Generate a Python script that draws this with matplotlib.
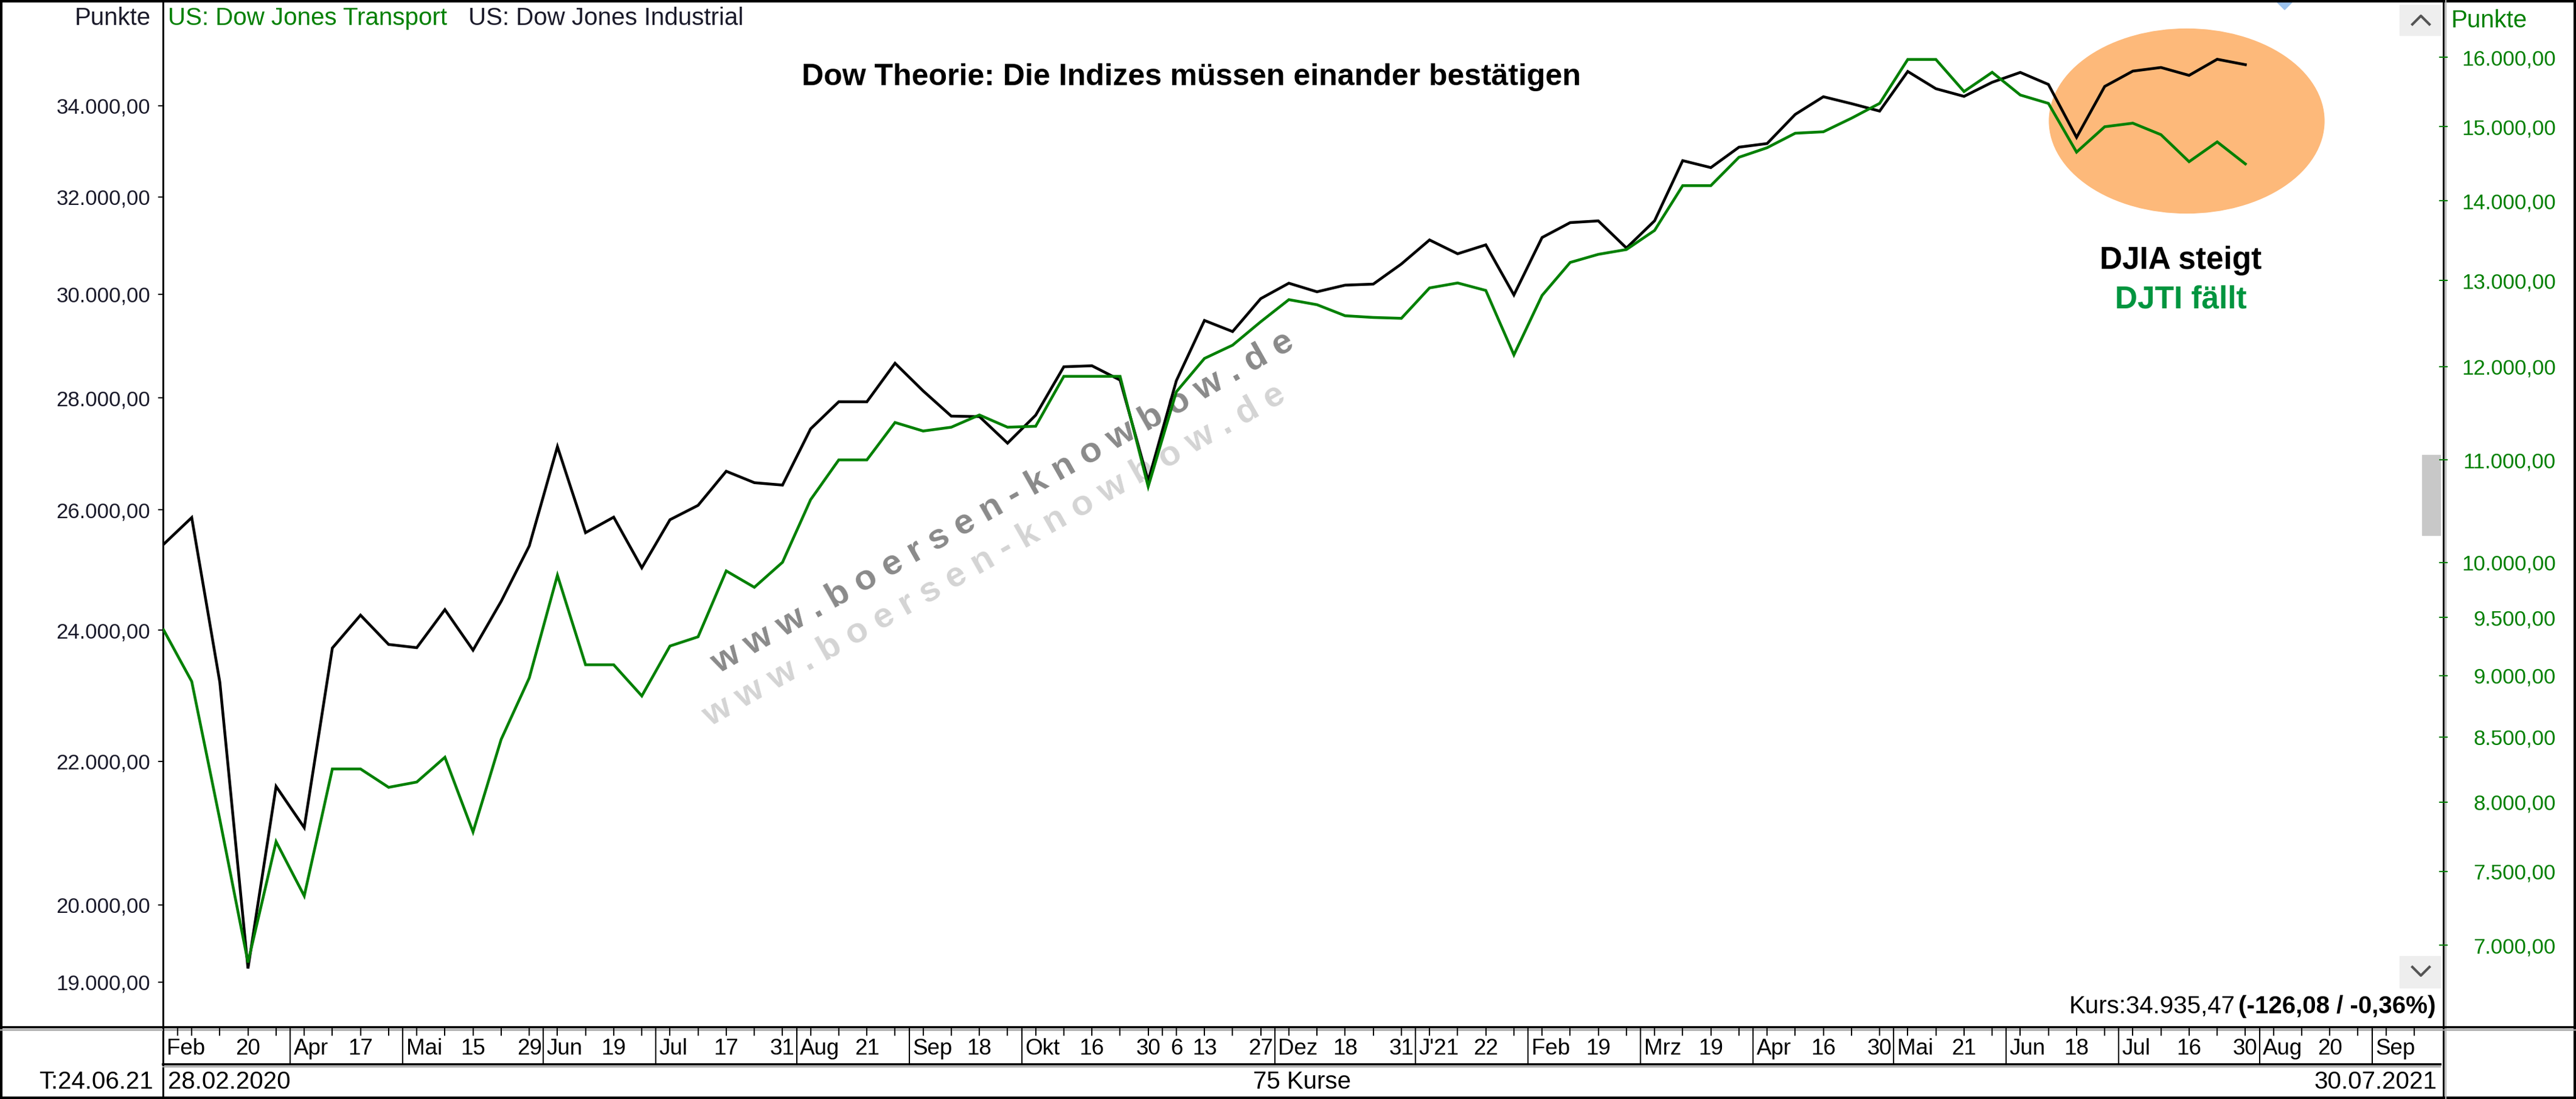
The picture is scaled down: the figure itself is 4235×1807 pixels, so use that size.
import matplotlib
matplotlib.use("Agg")
import matplotlib.pyplot as plt
import numpy as np
import pandas as pd
from matplotlib.lines import Line2D
from matplotlib.patches import Ellipse, Rectangle, Polygon
from matplotlib.ticker import FixedLocator, FixedFormatter, NullLocator

plt.rcParams["font.family"] = ["Liberation Sans", "DejaVu Sans"]

W, H = 4235, 1807

FIRST_WEEK = "2020-02-28"
AXIS_END = "2021-09-10"

# weekly closes, 28.02.2020 .. 30.07.2021 (75 Kurse)
djia = [25409, 25864, 23186, 19174, 21637, 21053, 23719, 24242, 23775, 23724,
        24331, 23685, 24465, 25383, 27111, 25606, 25871, 25016, 25827, 26075,
        26672, 26470, 26428, 27433, 27931, 27930, 28654, 28133, 27666, 27657,
        27174, 27683, 28587, 28606, 28336, 26502, 28323, 29480, 29263, 29910,
        30218, 30046, 30179, 30200, 30606, 31098, 30814, 30997, 29983, 31148,
        31458, 31494, 30932, 31496, 32779, 32628, 33073, 33153, 33801, 34200,
        34043, 33875, 34778, 34382, 34208, 34529, 34756, 34480, 33290, 34434,
        34786, 34870, 34688, 35061, 34935]
djt = [9390, 8950, 7870, 6890, 7710, 7330, 8250, 8250, 8110, 8150,
       8340, 7780, 8480, 8980, 9880, 9090, 9090, 8830, 9250, 9330,
       9920, 9770, 10000, 10600, 11000, 11000, 11390, 11300, 11340, 11470,
       11340, 11350, 11890, 11890, 11890, 10730, 11720, 12090, 12240, 12510,
       12770, 12710, 12580, 12560, 12550, 12910, 12970, 12880, 12130, 12820,
       13220, 13320, 13380, 13620, 14200, 14200, 14580, 14710, 14910, 14930,
       15120, 15330, 15970, 15970, 15500, 15780, 15450, 15330, 14650, 15000,
       15050, 14890, 14520, 14790, 14490]

left_ticks = [19000, 20000, 22000, 24000, 26000, 28000, 30000, 32000, 34000]
right_ticks = [7000, 7500, 8000, 8500, 9000, 9500, 10000, 11000, 12000,
               13000, 14000, 15000, 16000]

# month boxes on the date bar ("" = tick only, no separator)
month_labels = [("Feb", "2020-02-28"), ("", "2020-03-06"), ("Apr", "2020-04-03"),
                ("Mai", "2020-05-01"), ("Jun", "2020-06-05"), ("Jul", "2020-07-03"),
                ("Aug", "2020-08-07"), ("Sep", "2020-09-04"), ("Okt", "2020-10-02"),
                ("", "2020-11-06"), ("Dez", "2020-12-04"), ("J'21", "2021-01-08"),
                ("Feb", "2021-02-05"), ("Mrz", "2021-03-05"), ("Apr", "2021-04-02"),
                ("Mai", "2021-05-07"), ("Jun", "2021-06-04"), ("Jul", "2021-07-02"),
                ("Aug", "2021-08-06"), ("Sep", "2021-09-03")]
day_labels = [("20", "2020-03-20"), ("17", "2020-04-17"), ("15", "2020-05-15"),
              ("29", "2020-05-29"), ("19", "2020-06-19"), ("17", "2020-07-17"),
              ("31", "2020-07-31"), ("21", "2020-08-21"), ("18", "2020-09-18"),
              ("16", "2020-10-16"), ("30", "2020-10-30"), ("6", "2020-11-06"),
              ("13", "2020-11-13"), ("27", "2020-11-27"), ("18", "2020-12-18"),
              ("31", "2020-12-31"), ("22", "2021-01-22"), ("19", "2021-02-19"),
              ("19", "2021-03-19"), ("16", "2021-04-16"), ("30", "2021-04-30"),
              ("21", "2021-05-21"), ("18", "2021-06-18"), ("16", "2021-07-16"),
              ("30", "2021-07-30"), ("20", "2021-08-20")]

GREEN = "#008000"
DARK = "#1a1a2a"
TICK_FS = 25
DATE_FS = 26.5
INFO_FS = 29


def de_num(v):
    s = f"{v:,.2f}"
    return s.replace(",", "X").replace(".", ",").replace("X", ".")


def week_index(date):
    days = (pd.Timestamp(date) - pd.Timestamp(FIRST_WEEK)).days
    return int(round(days / 7))


weeks = pd.date_range(FIRST_WEEK, AXIS_END, freq="W-FRI")
x = np.arange(len(djia))
XLIM = (-0.02, 81.04)

fig = plt.figure(figsize=(W / 100, H / 100), dpi=100, facecolor="white")

# pixel overlay for frame, labels and annotations
deco = fig.add_axes([0, 0, 1, 1], zorder=0)
deco.set_xlim(0, W)
deco.set_ylim(H, 0)
deco.axis("off")

ax = fig.add_axes([268 / W, 1 - 1690 / H, (4017 - 268) / W, (1690 - 5) / H], zorder=2)
ax.patch.set_visible(False)
ax2 = ax.twinx()

ax.plot(x, djia, color="black", lw=3.3, solid_joinstyle="miter", zorder=3)
ax2.plot(x, djt, color=GREEN, lw=3.3, solid_joinstyle="miter", zorder=3)

for a in (ax, ax2):
    a.set_yscale("log")
    a.set_xlim(*XLIM)
    a.xaxis.set_major_locator(NullLocator())
    a.xaxis.set_minor_locator(NullLocator())
    a.yaxis.set_minor_locator(NullLocator())
    for sp in a.spines.values():
        sp.set_visible(False)

ax.set_ylim(18433, 36394)
ax2.set_ylim(6483, 16831)

ax.yaxis.set_major_locator(FixedLocator(left_ticks))
ax.yaxis.set_major_formatter(FixedFormatter([de_num(v) for v in left_ticks]))
ax.tick_params(axis="y", direction="out", length=6, width=1.5, color="black",
               labelsize=TICK_FS, labelcolor=DARK, pad=9)

ax2.yaxis.set_major_locator(FixedLocator(right_ticks))
ax2.yaxis.set_major_formatter(FixedFormatter([de_num(v) for v in right_ticks]))
ax2.tick_params(axis="y", direction="inout", length=10, width=1.5, color=GREEN,
                labelsize=TICK_FS, labelcolor=GREEN, pad=128)
plt.setp(ax2.get_yticklabels(), ha="right")

# date bar
bax = fig.add_axes([268 / W, 1 - 1750 / H, (4017 - 268) / W, 60 / H], zorder=2)
bax.set_xlim(*XLIM)
bax.set_ylim(0, 1)
bax.axis("off")
bax.vlines(np.arange(len(weeks)), 0.78, 1, color="black", lw=1.5)
for lab, d in month_labels:
    pos = week_index(d) - 0.5
    if pos > XLIM[0]:
        bax.vlines(pos, 0.78, 1, color="black", lw=1.5)
        if lab:
            bax.vlines(pos, 0, 1, color="black", lw=1.5)
    if lab:
        bax.text(max(pos, XLIM[0]) + 0.12, 0.42, lab, ha="left", va="center",
                 fontsize=DATE_FS, color="black")
for lab, d in day_labels:
    bax.text(week_index(d), 0.42, lab, ha="center", va="center",
             fontsize=DATE_FS, color="black")


# frame lines (pixel coords)
def hline(y, x0, x1, color="black", lw=2.2):
    deco.add_line(Line2D([x0, x1], [y, y], color=color, lw=lw))


def vline(xp, y0, y1, color="black", lw=2.2):
    deco.add_line(Line2D([xp, xp], [y0, y1], color=color, lw=lw))


hline(2, 0, W, lw=3)
hline(H - 2, 0, W, lw=3)
vline(2, 0, H, lw=3)
vline(W - 2, 0, H, lw=3)
vline(268, 0, H)
vline(4017, 0, H)
vline(4021, 0, H, color="#b0b0b0", lw=1.5)
hline(1689, 0, W, lw=2.6)
hline(1693, 0, W, color="#a0a0a0", lw=1.8)
hline(1750, 268, 4012, lw=2.6)
hline(1754, 268, 4012, color="#a0a0a0", lw=1.5)

# scroll bar bits at the right edge
deco.add_patch(Rectangle((3945, 8), 67, 50, color="#eeeeee", zorder=1))
deco.add_line(Line2D([3966, 3980, 3994], [40, 26, 40], color="#555555", lw=3))
deco.add_patch(Rectangle((3982, 748), 30, 132, color="#c8c8c8", zorder=1))
deco.add_patch(Rectangle((3945, 1572), 67, 52, color="#eeeeee", zorder=1))
deco.add_line(Line2D([3966, 3980, 3994], [1590, 1604, 1590], color="#555555", lw=3))
deco.add_patch(Polygon([[3744, 4], [3768, 4], [3756, 16]], closed=True,
                       color="#9cc3ee", zorder=1))

# highlight
deco.add_patch(Ellipse((3595, 199), 452, 303, color="#fdb97a", zorder=1))

# header texts
deco.text(248, 30, "Punkte", ha="right", va="center", fontsize=INFO_FS, color=DARK)
deco.text(276, 30, "US: Dow Jones Transport", ha="left", va="center",
          fontsize=INFO_FS, color=GREEN)
deco.text(770, 30, "US: Dow Jones Industrial", ha="left", va="center",
          fontsize=INFO_FS, color=DARK)
deco.text(4030, 34, "Punkte", ha="left", va="center", fontsize=INFO_FS, color=GREEN)

deco.text(1958, 127, "Dow Theorie: Die Indizes müssen einander bestätigen",
          ha="center", va="center", fontsize=36, fontweight="bold", color="black")
deco.text(3585, 428, "DJIA steigt", ha="center", va="center", fontsize=37,
          fontweight="bold", color="black")
deco.text(3585, 493, "DJTI fällt", ha="center", va="center", fontsize=37,
          fontweight="bold", color="#00953f")

# watermark
wm = " ".join("www.boersen-knowbow.de")
deco.text(1648, 826, wm, ha="center", va="center", rotation=29.5,
          rotation_mode="anchor", fontsize=42, fontweight="bold", color="#8a8a8a",
          zorder=1)
deco.text(1634, 913, wm, ha="center", va="center", rotation=29.5,
          rotation_mode="anchor", fontsize=42, fontweight="bold", color="#d4d4d4",
          zorder=1)

# bottom texts
deco.text(252, 1779, "T:24.06.21", ha="right", va="center", fontsize=INFO_FS)
deco.text(276, 1779, "28.02.2020", ha="left", va="center", fontsize=INFO_FS)
deco.text(2141, 1779, f"{len(djia)} Kurse", ha="center", va="center", fontsize=INFO_FS)
deco.text(4006, 1779, "30.07.2021", ha="right", va="center", fontsize=INFO_FS)

kurs_bold = deco.text(4005, 1655, "(-126,08 / -0,36%)", ha="right", va="center",
                      fontsize=INFO_FS, fontweight="bold")
fig.canvas.draw()
bb = kurs_bold.get_window_extent(fig.canvas.get_renderer())
deco.text(bb.x0 - 6, 1655, "Kurs:" + de_num(djia[-1] + 0.47), ha="right",
          va="center", fontsize=INFO_FS)

fig.savefig("out.png", dpi=100, facecolor="white")
